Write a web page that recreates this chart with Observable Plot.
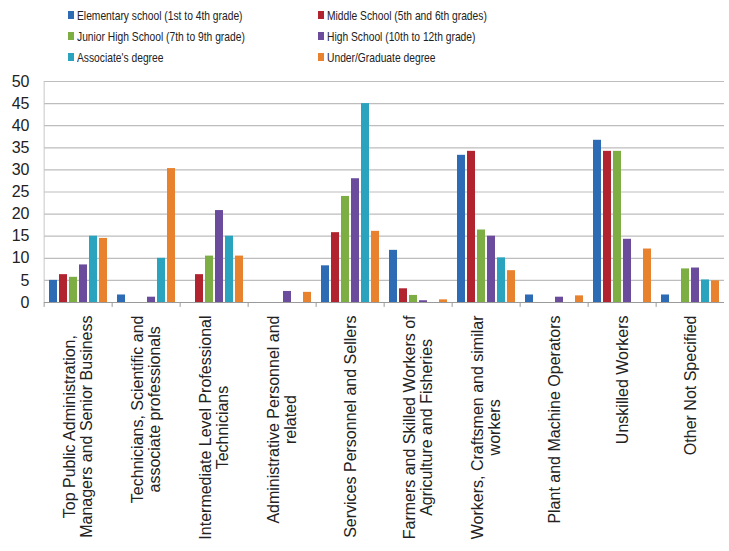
<!DOCTYPE html>
<html>
<head>
<meta charset="utf-8">
<script src="https://cdn.jsdelivr.net/npm/d3@7"></script>
<script src="https://cdn.jsdelivr.net/npm/@observablehq/plot@0.6"></script>
<style>
  html, body { margin: 0; padding: 0; background: #ffffff; }
  #legend { position: relative; width: 729px; height: 70px; font-family: "Liberation Sans", Arial, sans-serif; font-size: 13px; color: #222; }
  .item { position: absolute; display: flex; align-items: center; white-space: nowrap; height: 16px; }
  .sw { width: 6px; height: 8px; margin-right: 3px; flex: none; }
  .tx { display: inline-block; transform: scaleX(0.79); transform-origin: left center; }
  #chart svg { display: block; }
</style>
</head>
<body>
<div id="legend"></div>
<div id="chart"></div>
<script>
const categories = [
  "Top Public Administration, Managers and Senior Business",
  "Technicians, Scientific and associate professionals",
  "Intermediate Level Professional Technicians",
  "Administrative Personnel and related",
  "Services Personnel and Sellers",
  "Farmers and Skilled Workers of Agriculture and Fisheries",
  "Workers, Craftsmen and similar workers",
  "Plant and Machine Operators",
  "Unskilled Workers",
  "Other Not Specified"
];
const categoryTickLabels = [
  "Top Public Administration,\nManagers and Senior Business",
  "Technicians, Scientific and\nassociate professionals",
  "Intermediate Level Professional\nTechnicians",
  "Administrative Personnel and\nrelated",
  "Services Personnel and Sellers",
  "Farmers and Skilled Workers of\nAgriculture and Fisheries",
  "Workers, Craftsmen and similar\nworkers",
  "Plant and Machine Operators",
  "Unskilled Workers",
  "Other Not Specified"
];
const seriesNames = [
  "Elementary school (1st to 4th grade)",
  "Middle School (5th and 6th grades)",
  "Junior High School (7th to 9th grade)",
  "High School (10th to 12th grade)",
  "Associate's degree",
  "Under/Graduate degree"
];
const seriesColors = ["#2d6cb5", "#b22330", "#7cae43", "#6a4b9c", "#2aa3bf", "#e8822e"];

const elementary = [5.0, 1.7, 0, 0, 8.3, 11.8, 33.3, 1.7, 36.7, 1.7];
const middle     = [6.3, 0, 6.3, 0, 15.8, 3.1, 34.2, 0, 34.2, 0];
const juniorHigh = [5.7, 0, 10.5, 0, 24.0, 1.6, 16.4, 0, 34.2, 7.6];
const highSchool = [8.5, 1.2, 20.8, 2.5, 28.0, 0.4, 15.0, 1.2, 14.3, 7.8];
const associate  = [15.0, 10.0, 15.0, 0, 45.0, 0, 10.1, 0, 0, 5.1];
const graduate   = [14.5, 30.3, 10.5, 2.3, 16.1, 0.6, 7.2, 1.5, 12.1, 4.9];

const yTicks = [0, 5, 10, 15, 20, 25, 30, 35, 40, 45, 50];

const seriesValues = [elementary, middle, juniorHigh, highSchool, associate, graduate];
const data = [];
categories.forEach((c, i) => {
  seriesNames.forEach((s, j) => {
    data.push({category: c, series: s, value: seriesValues[j][i]});
  });
});

// Legend
const legend = document.getElementById("legend");
const legendPos = [[68, 7], [318, 7], [68, 28], [318, 28], [68, 49], [318, 49]];
seriesNames.forEach((s, j) => {
  const it = document.createElement("div");
  it.className = "item";
  it.style.left = legendPos[j][0] + "px";
  it.style.top = legendPos[j][1] + "px";
  const sw = document.createElement("span");
  sw.className = "sw";
  sw.style.background = seriesColors[j];
  const tx = document.createElement("span");
  tx.className = "tx";
  tx.textContent = s;
  it.appendChild(sw);
  it.appendChild(tx);
  legend.appendChild(it);
});

const W = 729, H = 481, ML = 40, MR = 2, MT = 11, MB = 249;
const gw = (W - ML - MR) / categories.length;
const pxPerUnit = (H - MT - MB) / 50;
const labelFontSize = 16, labelLineHeight = 16.8, labelPad = 13;

// Category labels: each line is a rotated text, lines centred on the longest line,
// block's upper end placed labelPad px below the axis (Excel-style centred wrapping).
const ctx = document.createElement("canvas").getContext("2d");
ctx.font = `${labelFontSize}px 'Liberation Sans', Arial, sans-serif`;
const labelLines = [];
categories.forEach((c, i) => {
  const lines = categoryTickLabels[i].split("\n");
  const maxLen = Math.max(...lines.map(l => ctx.measureText(l).width));
  const yCenter = -(labelPad + maxLen / 2) / pxPerUnit;
  lines.forEach((l, k) => labelLines.push({category: c, text: l, y: yCenter, offset: k - (lines.length - 1) / 2}));
});
const labelMark = (filter, dx) => Plot.text(labelLines.filter(filter), {
  fx: "category", y: "y", text: "text", rotate: -90, textAnchor: "middle",
  fontSize: labelFontSize, fill: "#222", dx
});

const chart = Plot.plot({
  width: W,
  height: H,
  marginLeft: ML,
  marginRight: MR,
  marginTop: MT,
  marginBottom: MB,
  style: {fontFamily: "'Liberation Sans', Arial, sans-serif", background: "#ffffff", color: "#222"},
  fx: {domain: categories, paddingInner: 0, paddingOuter: 0, axis: null},
  x: {domain: seriesNames, paddingInner: 0.22, paddingOuter: 0.3, axis: null},
  y: {domain: [0, 50], axis: null},
  color: {domain: seriesNames, range: seriesColors},
  marks: [
    Plot.ruleY(yTicks.filter(d => d > 0), {stroke: "#bdbdbd", strokeWidth: 1.2}),
    Plot.ruleX(categories, {fx: d => d, x: null, y1: 0, y2: -1.1, dx: -gw / 2, stroke: "#9a9a9a"}),
    Plot.ruleX([categories[0]], {fx: d => d, x: null, y1: 0, y2: 50, dx: -gw / 2, stroke: "#c8c8c8"}),
    Plot.barY(data, {fx: "category", x: "series", y: "value", fill: "series"}),
    Plot.ruleY([0], {stroke: "#9a9a9a", strokeWidth: 1.2}),
    Plot.axisY(yTicks, {tickSize: 0, tickPadding: 15, fontSize: 16, label: null, tickFormat: d => String(d)}),
    labelMark(d => d.offset < 0, -labelLineHeight / 2),
    labelMark(d => d.offset === 0, 0),
    labelMark(d => d.offset > 0, labelLineHeight / 2)
  ]
});
document.getElementById("chart").appendChild(chart);
</script>
</body>
</html>
